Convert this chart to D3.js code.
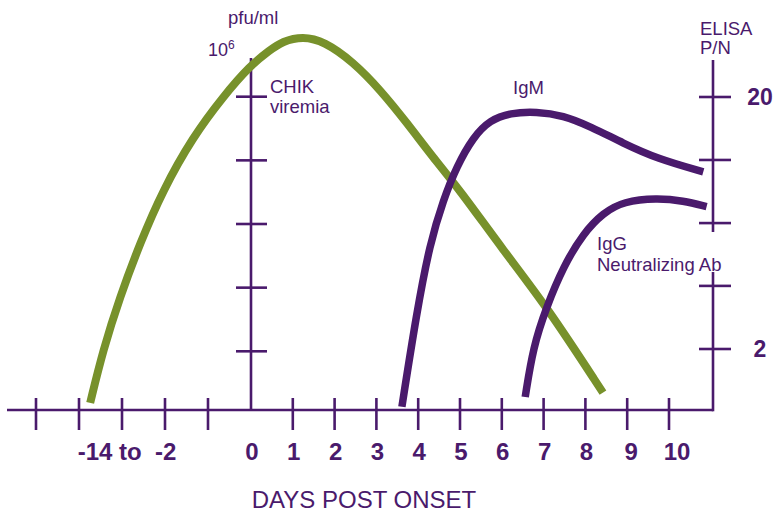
<!DOCTYPE html>
<html>
<head>
<meta charset="utf-8">
<script src="https://cdn.jsdelivr.net/npm/d3@7"></script>
<style>
  html, body { margin: 0; padding: 0; background: #fff; }
  svg { display: block; font-family: "Liberation Sans", Arial, Helvetica, sans-serif; }
</style>
</head>
<body>
<svg id="chart" width="780" height="515"></svg>
<script>
// ---------------- data ----------------
const dayTicks = [-5, -4, -3, -2, -1, 1, 2, 3, 4, 5, 6, 7, 8, 9, 10];
const dayLabelValues = [-3, 0, 1, 2, 3, 4, 5, 6, 7, 8, 9, 10];
const dayLabels = ["-14 to  -2", "0", "1", "2", "3", "4", "5", "6", "7", "8", "9", "10"];

const viremiaTicks = [1, 2, 3, 4, 5];
const elisaTicks = [2, 3.56, 6.32, 11.25, 20];
const elisaTickLabels = ["2", "", "", "", "20"];

const viremiaDays  = [-3.74, -3.44, -3.05, -2.58, -2.05, -1.35, -0.65, -0.02, 0.45, 0.75, 1.24, 1.75, 2.44, 3.09, 3.73, 4.35, 5.0, 6.03, 7.08, 8.42];
const viremiaLevel = [0.19, 1.02, 1.85, 2.70, 3.53, 4.37, 5.00, 5.49, 5.73, 5.87, 5.95, 5.87, 5.55, 5.11, 4.59, 4.05, 3.53, 2.59, 1.70, 0.35];

const igmDays = [3.61, 3.96, 4.28, 4.60, 4.92, 5.32, 5.72, 6.20, 6.83, 7.47, 8.11, 8.91, 9.71, 10.82];
const igmPN   = [1.18, 2.77, 5.25, 7.8, 10.6, 13.9, 16.2, 17.3, 17.5, 16.9, 15.3, 13.1, 11.4, 10.1];

const iggDays = [6.56, 6.75, 7.07, 7.47, 7.95, 8.43, 8.91, 9.71, 10.34, 10.90];
const iggPN   = [1.29, 2.04, 2.94, 4.24, 5.76, 6.95, 7.70, 7.95, 7.75, 7.34];

// ---------------- layout ----------------
const PURPLE = "#4a1a6c";
const GREEN = "#77912b";
const svg = d3.select("#chart");

const x = d3.scaleLinear().domain([-5, 0, 10]).range([36, 251, 669]);
const yL = d3.scaleLinear().domain([1, 5]).range([351.3, 96.7]);
const yR = d3.scaleLog().domain([2, 20]).range([349, 97]);

const baseY = 410;
const leftX = x(0);
const rightX = 713;

// axes lines
const axes = svg.append("g").attr("stroke", PURPLE).attr("stroke-width", 2.6).attr("fill", "none");
axes.append("line").attr("x1", 7).attr("x2", rightX).attr("y1", baseY).attr("y2", baseY);
axes.selectAll("line.xt").data(dayTicks).join("line").attr("class", "xt")
  .attr("x1", d => x(d)).attr("x2", d => x(d)).attr("y1", baseY - 12).attr("y2", baseY + 20);
axes.append("line").attr("x1", leftX).attr("x2", leftX).attr("y1", 58).attr("y2", baseY);
axes.selectAll("line.lt").data(viremiaTicks).join("line").attr("class", "lt")
  .attr("x1", leftX - 15).attr("x2", leftX + 16).attr("y1", d => yL(d)).attr("y2", d => yL(d));
axes.append("line").attr("x1", rightX).attr("x2", rightX).attr("y1", 60).attr("y2", 232);
axes.append("line").attr("x1", rightX).attr("x2", rightX).attr("y1", 272).attr("y2", baseY + 1.3);
axes.selectAll("line.rt").data(elisaTicks).join("line").attr("class", "rt")
  .attr("x1", rightX - 14).attr("x2", rightX + 18).attr("y1", d => yR(d)).attr("y2", d => yR(d));

// curves
const curve = d3.curveBasis;
const viremiaPts = viremiaDays.map((d, i) => [d, viremiaLevel[i]]);
const igmPts = igmDays.map((d, i) => [d, igmPN[i]]);
const iggPts = iggDays.map((d, i) => [d, iggPN[i]]);

svg.append("path").datum(viremiaPts)
  .attr("d", d3.line().x(d => x(d[0])).y(d => yL(d[1])).curve(curve))
  .attr("fill", "none").attr("stroke", GREEN).attr("stroke-width", 8);

svg.append("path").datum(igmPts)
  .attr("d", d3.line().x(d => x(d[0])).y(d => yR(d[1])).curve(curve))
  .attr("fill", "none").attr("stroke", PURPLE).attr("stroke-width", 7.5);

svg.append("path").datum(iggPts)
  .attr("d", d3.line().x(d => x(d[0])).y(d => yR(d[1])).curve(curve))
  .attr("fill", "none").attr("stroke", PURPLE).attr("stroke-width", 7.5);

// day labels
svg.selectAll("text.day").data(dayLabelValues).join("text").attr("class", "day")
  .attr("x", (d, i) => x(d) + (i === 0 ? 5 : (d === 10 ? 8 : (d === 9 ? 4 : 1))))
  .attr("y", 460)
  .attr("text-anchor", "middle")
  .attr("fill", PURPLE).attr("font-weight", "bold").attr("font-size", 24)
  .attr("xml:space", "preserve")
  .style("white-space", "pre")
  .text((d, i) => dayLabels[i]);

// right tick labels
svg.selectAll("text.rl").data(elisaTicks.filter((d, i) => elisaTickLabels[i] !== "")).join("text").attr("class", "rl")
  .attr("x", 760).attr("y", d => yR(d) + 8)
  .attr("text-anchor", "middle")
  .attr("fill", PURPLE).attr("font-weight", "bold").attr("font-size", 23)
  .text(d => elisaTickLabels[elisaTicks.indexOf(d)]);

// annotation texts
const ann = svg.append("g").attr("fill", PURPLE).attr("font-size", 18.5);
ann.append("text").attr("x", 228).attr("y", 24).text("pfu/ml");
const ten = ann.append("text").attr("x", 208).attr("y", 56).attr("font-size", 18);
ten.append("tspan").text("10");
ten.append("tspan").attr("font-size", 12).attr("dy", -7).text("6");
ann.append("text").attr("x", 270).attr("y", 93).text("CHIK");
ann.append("text").attr("x", 270).attr("y", 113).text("viremia");
ann.append("text").attr("x", 513).attr("y", 94).text("IgM");
ann.append("text").attr("x", 597).attr("y", 250).text("IgG");
ann.append("text").attr("x", 597).attr("y", 271).text("Neutralizing Ab");
ann.append("text").attr("x", 700).attr("y", 35).text("ELISA");
ann.append("text").attr("x", 700).attr("y", 54).text("P/N");

svg.append("text").attr("x", 364).attr("y", 508).attr("text-anchor", "middle")
  .attr("fill", PURPLE).attr("font-size", 24).text("DAYS POST ONSET");
</script>
</body>
</html>
